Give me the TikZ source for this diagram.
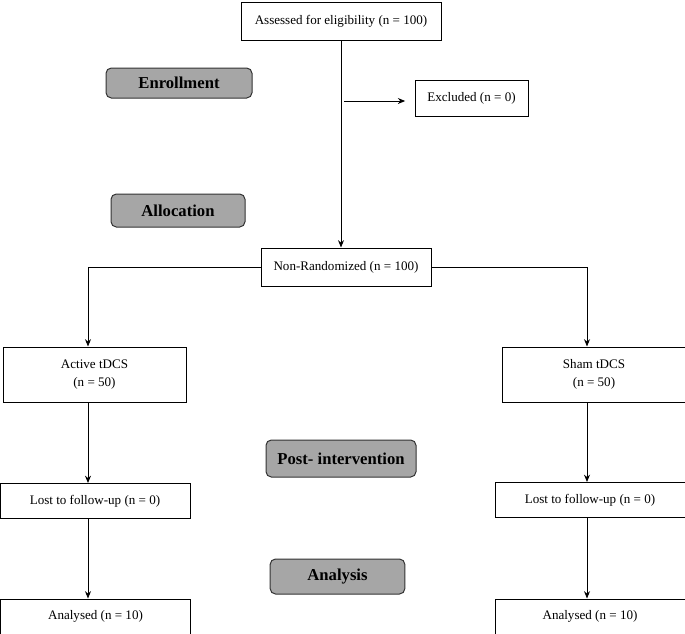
\documentclass[tikz,border=0pt]{standalone}
\usepackage{fontspec}
\setmainfont{Liberation Serif}
\usetikzlibrary{positioning, arrows.meta}
\tikzset{
    ->, % directed connectors
    >={Stealth[length=5.5pt, width=4.5pt]}, % small filled heads
    every node/.style={font=\fontsize{9.8}{14}\selectfont},
}

\begin{document}
\begin{tikzpicture}[
                    x=0.75pt, y=-0.75pt,
                    box/.style={draw, line width=0.75pt, align=center, inner sep=0pt},
                    stage/.style={draw=black!80, line width=0.75pt, rounded corners=4pt, fill=gray!70, inner sep=0pt, font=\bfseries\fontsize{12.5}{14}\selectfont},
                    line width=0.75pt,
                ]
                \useasboundingbox (0,0) rectangle (685,633);
                \clip (0,0) rectangle (685,633);
                % columns of the two arms
                \coordinate (lcol) at (88,0);
                \coordinate (rcol) at (587,0);
                \coordinate (exfrom) at (344,101);
                % main boxes
                \node[box, minimum width=150pt, minimum height=28.5pt] (assessed) at (341,21) {Assessed for eligibility (n = 100)};
                \node[box, minimum width=84.75pt, minimum height=27pt] (excluded) at (471.5,98) {Excluded (n = 0)};
                \node[box, minimum width=127.5pt, minimum height=28.5pt] (nonrand) at (346,267) {Non-Randomized (n = 100)};
                \node[box, minimum width=137.25pt, minimum height=41.25pt] (active) at (94.5,374.5) {Active tDCS\\(n = 50)};
                \node[box, minimum width=138pt, minimum height=41.25pt] (sham) at (594,374.5) {Sham tDCS\\(n = 50)};
                \node[box, minimum width=142.5pt, minimum height=26.25pt] (lostL) at (95,501) {Lost to follow-up (n = 0)};
                \node[box, minimum width=142.5pt, minimum height=26.25pt] (lostR) at (590,500) {Lost to follow-up (n = 0)};
                \node[box, minimum width=143pt, minimum height=26.25pt] (analysedL) at (95.5,616.5) {Analysed (n = 10)};
                \node[box, minimum width=142.5pt, minimum height=26.25pt] (analysedR) at (590,616.5) {Analysed (n = 10)};
                % stage labels
                \node[stage, minimum width=109.5pt, minimum height=22.5pt] (enroll) at (179,83) {Enrollment};
                \node[stage, minimum width=100.5pt, minimum height=24.75pt] (alloc) at (178,210.5) {Allocation};
                \node[stage, minimum width=112.5pt, minimum height=27.75pt] (post) at (341,458.5) {Post- intervention};
                \node[stage, minimum width=101pt, minimum height=26.25pt] (analysis) at (337.5,576.5) {Analysis};
                % connectors
                \draw (assessed.south) -- (assessed.south |- nonrand.north);
                \draw[shorten >=7pt] (exfrom) -- (exfrom -| excluded.west);
                \draw (nonrand.west) -| (lcol |- active.north);
                \draw (nonrand.east) -| (rcol |- sham.north);
                \draw (lcol |- active.south) -- (lcol |- lostL.north);
                \draw (rcol |- sham.south) -- (rcol |- lostR.north);
                \draw (lcol |- lostL.south) -- (lcol |- analysedL.north);
                \draw (rcol |- lostR.south) -- (rcol |- analysedR.north);
            \end{tikzpicture}
\end{document}
